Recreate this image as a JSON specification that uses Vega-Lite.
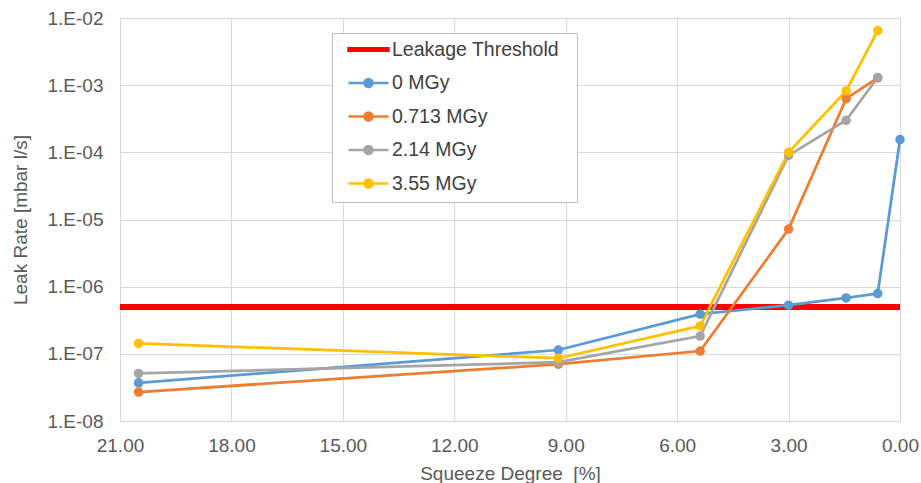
{
  "$schema": "https://vega.github.io/schema/vega-lite/v6.json",
  "autosize": {"type": "none"},
  "padding": {"left": 120, "top": 18, "right": 21, "bottom": 62},
  "width": 780,
  "height": 403,
  "background": "white",
  "config": {
    "view": {"stroke": null},
    "font": "Liberation Sans",
    "axis": {
      "labelFont": "Liberation Sans",
      "labelFontSize": 19,
      "labelColor": "#595959",
      "titleFont": "Liberation Sans",
      "titleFontSize": 19,
      "titleFontWeight": "normal",
      "titleColor": "#595959",
      "gridColor": "#D9D9D9",
      "gridWidth": 1,
      "domainColor": "#D9D9D9",
      "domainWidth": 1,
      "ticks": false,
      "labelFlush": false
    }
  },
  "datasets": {
    "threshold": [{"series": "Leakage Threshold", "rate": 5e-7}],
    "series": [
      {"series": "0 MGy", "squeeze": 20.5, "rate": 3.7e-8},
      {"series": "0 MGy", "squeeze": 9.2, "rate": 1.14e-7},
      {"series": "0 MGy", "squeeze": 5.38, "rate": 3.9e-7},
      {"series": "0 MGy", "squeeze": 3.0, "rate": 5.3e-7},
      {"series": "0 MGy", "squeeze": 1.45, "rate": 6.8e-7},
      {"series": "0 MGy", "squeeze": 0.6, "rate": 7.9e-7},
      {"series": "0 MGy", "squeeze": 0.0, "rate": 1.55e-4},
      {"series": "0.713 MGy", "squeeze": 20.5, "rate": 2.7e-8},
      {"series": "0.713 MGy", "squeeze": 9.2, "rate": 7.0e-8},
      {"series": "0.713 MGy", "squeeze": 5.38, "rate": 1.1e-7},
      {"series": "0.713 MGy", "squeeze": 3.0, "rate": 7.2e-6},
      {"series": "0.713 MGy", "squeeze": 1.45, "rate": 6.3e-4},
      {"series": "0.713 MGy", "squeeze": 0.6, "rate": 1.28e-3},
      {"series": "2.14 MGy", "squeeze": 20.5, "rate": 5.1e-8},
      {"series": "2.14 MGy", "squeeze": 9.2, "rate": 7.5e-8},
      {"series": "2.14 MGy", "squeeze": 5.38, "rate": 1.84e-7},
      {"series": "2.14 MGy", "squeeze": 3.0, "rate": 9.0e-5},
      {"series": "2.14 MGy", "squeeze": 1.45, "rate": 3.0e-4},
      {"series": "2.14 MGy", "squeeze": 0.6, "rate": 1.3e-3},
      {"series": "3.55 MGy", "squeeze": 20.5, "rate": 1.43e-7},
      {"series": "3.55 MGy", "squeeze": 9.2, "rate": 8.6e-8},
      {"series": "3.55 MGy", "squeeze": 5.38, "rate": 2.6e-7},
      {"series": "3.55 MGy", "squeeze": 3.0, "rate": 1.0e-4},
      {"series": "3.55 MGy", "squeeze": 1.45, "rate": 8.2e-4},
      {"series": "3.55 MGy", "squeeze": 0.6, "rate": 6.5e-3}
    ]
  },
  "layer": [
    {
      "data": {"name": "threshold"},
      "mark": {"type": "rule", "strokeWidth": 6},
      "encoding": {
        "y": {"field": "rate", "type": "quantitative",
          "scale": {"type": "log", "domain": [1e-8, 1e-2], "nice": false}},
        "color": {"field": "series", "type": "nominal"}
      }
    },
    {
      "data": {"name": "series"},
      "mark": {"type": "line", "strokeWidth": 2.75, "point": {"filled": true, "size": 90, "opacity": 1}},
      "encoding": {
        "x": {
          "field": "squeeze", "type": "quantitative",
          "scale": {"domain": [0, 21], "reverse": true, "nice": false, "zero": false},
          "axis": {
            "title": "Squeeze Degree\u00a0 [%]",
            "values": [0, 3, 6, 9, 12, 15, 18, 21],
            "format": ".2f",
            "labelPadding": 15,
            "titlePadding": 9,
            "grid": true
          }
        },
        "y": {
          "field": "rate", "type": "quantitative",
          "scale": {"type": "log", "domain": [1e-8, 1e-2], "nice": false},
          "axis": {
            "title": "Leak Rate [mbar l/s]",
            "values": [1e-8, 1e-7, 1e-6, 1e-5, 1e-4, 1e-3, 1e-2],
            "labelExpr": "'1.E-0' + (-round(log(datum.value)/LN10))",
            "labelPadding": 17,
            "titlePadding": 17,
            "grid": true
          }
        },
        "color": {
          "field": "series", "type": "nominal",
          "scale": {
            "domain": ["Leakage Threshold", "0 MGy", "0.713 MGy", "2.14 MGy", "3.55 MGy"],
            "range": ["#FF0000", "#5B9BD5", "#ED7D31", "#A5A5A5", "#FFC000"]
          },
          "legend": {
            "title": null,
            "orient": "none",
            "legendX": 212,
            "legendY": 15,
            "direction": "vertical",
            "padding": 5,
            "strokeColor": "#BFBFBF",
            "fillColor": "white",
            "labelFont": "Liberation Sans",
            "labelFontSize": 19.5,
            "labelColor": "#404040",
            "labelOffset": 32,
            "labelLimit": 400,
            "rowPadding": 12.5,
            "symbolSize": 400,
            "symbolStrokeWidth": 2.5,
            "encode": {
              "symbols": {
                "update": {
                  "shape": {"signal": "datum.value === 'Leakage Threshold' ? 'M0,-0.13H4V0.13H0ZM21.8,0H21.8M0,-1.1H0' : datum.value === '3.55 MGy' ? 'M0,0H4M1.6,0A0.4,0.4 0 1,0 2.4,0A0.4,0.4 0 1,0 1.6,0ZM0,0.8H0' : 'M0,0H4M1.6,0A0.4,0.4 0 1,0 2.4,0A0.4,0.4 0 1,0 1.6,0Z'"},
                  "fill": {"scale": "color", "field": "value"},
                  "stroke": {"scale": "color", "field": "value"},
                  "strokeWidth": {"value": 2.5},
                  "size": {"value": 400},
                  "opacity": {"value": 1}
                }
              }
            }
          }
        }
      }
    }
  ]
}
